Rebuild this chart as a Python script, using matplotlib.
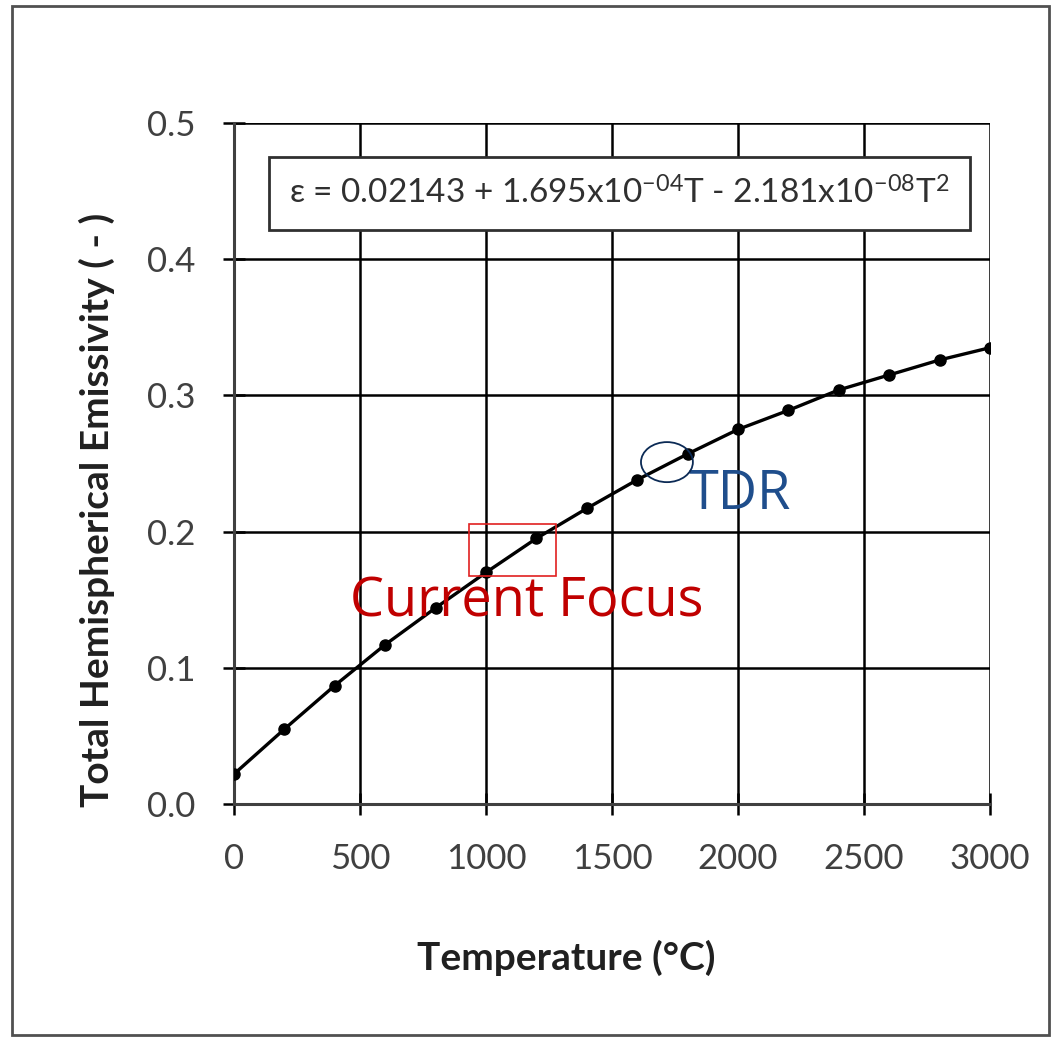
import numpy as np
import matplotlib.pyplot as plt
from matplotlib.patches import Rectangle, Ellipse

# 데이터
temps = [0, 200, 400, 600, 800, 1000, 1200, 1400, 1600, 1800,
         2000, 2200, 2400, 2600, 2800, 3000]
emis = [0.022, 0.055, 0.087, 0.117, 0.144, 0.170, 0.195, 0.217, 0.238, 0.257,
        0.275, 0.289, 0.304, 0.315, 0.326, 0.335]
x_ticks = [0, 500, 1000, 1500, 2000, 2500, 3000]
y_ticks = [0.0, 0.1, 0.2, 0.3, 0.4, 0.5]
equation = r'ε = 0.02143 + 1.695x10$^{-04}$T - 2.181x10$^{-08}$T$^{2}$'

plt.rcParams['font.family'] = ['Lato', 'DejaVu Sans']
plt.rcParams['mathtext.fontset'] = 'custom'
plt.rcParams['mathtext.rm'] = 'Lato'
plt.rcParams['mathtext.it'] = 'Lato'

fig = plt.figure(figsize=(10.57, 10.42), dpi=100)
ax = fig.add_axes([0.2214, 0.2284, 0.7152, 0.6536])

# 바깥 테두리
fig.patches.append(Rectangle((0.0114, 0.0067), 0.981, 0.9875, transform=fig.transFigure,
                             fill=False, edgecolor='#505050', linewidth=2))

# 곡선 + 점
ax.plot(temps, emis, color='black', linewidth=2.4, marker='o', markersize=8, zorder=3)

ax.set_xlim(0, 3000)
ax.set_ylim(0, 0.5)
ax.set_xticks(x_ticks)
ax.set_yticks(y_ticks)
ax.set_yticklabels([f'{v:.1f}' for v in y_ticks])
ax.grid(True, color='black', linewidth=1.8)
ax.set_axisbelow(True)
for s in ['top', 'right']:
    ax.spines[s].set_visible(False)
for s in ['left', 'bottom']:
    ax.spines[s].set_linewidth(2.2)
    ax.spines[s].set_color('#404040')
ax.tick_params(direction='inout', length=16, width=1.8, color='black',
               labelsize=25, labelcolor='#404040')
ax.tick_params(axis='x', pad=20)
ax.tick_params(axis='y', pad=20)

# 축 레이블
ax.set_xlabel('Temperature (°C)', fontsize=28, fontweight='bold', color='#202020')
ax.set_ylabel('Total Hemispherical Emissivity ( - )', fontsize=28, fontweight='bold',
              color='#202020')
ax.xaxis.set_label_coords(0.44, -0.2)
ax.yaxis.set_label_coords(-0.158, 0.432)

# 식 상자
ax.text(0.51, 0.897, equation, transform=ax.transAxes, ha='center', va='center',
        fontsize=24, color='#303030',
        bbox=dict(boxstyle='square,pad=0.6', facecolor='white', edgecolor='#303030', linewidth=2))

# 강조 표시
ax.add_patch(Rectangle((932, 0.1674), 346, 0.0382, fill=False, edgecolor='#E02020', linewidth=1.2, zorder=4))
ax.add_patch(Ellipse((1718, 0.251), 206, 0.0294, fill=False, edgecolor='#0B2A55', linewidth=1.3, zorder=4))
ax.text(1805, 0.227, 'TDR', fontsize=39, color='#1F4E8C', ha='left', va='center',
        family=['Open Sans', 'DejaVu Sans'])
ax.text(460, 0.148, 'Current Focus', fontsize=39, color='#C00000', ha='left', va='center',
        family=['Open Sans', 'DejaVu Sans'])

plt.savefig('out.png', dpi=100)
